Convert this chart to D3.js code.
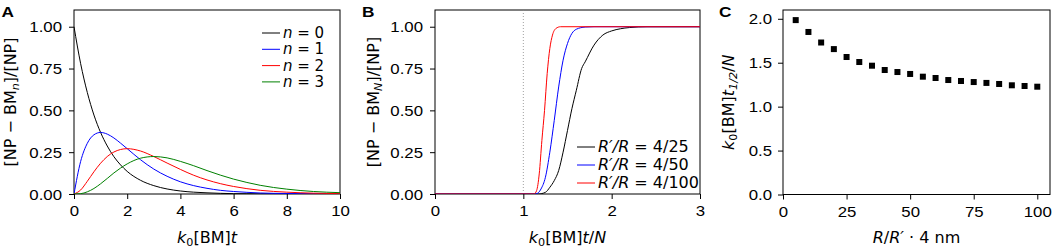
<!DOCTYPE html>
<html>
<head>
<meta charset="utf-8">
<script src="https://d3js.org/d3.v7.min.js"></script>
<style>
  body { margin: 0; background: #fff; }
  svg { font-family: "Liberation Sans", Arial, sans-serif; }
  .math { font-family: "DejaVu Sans", sans-serif; }
</style>
</head>
<body>
<svg id="fig" width="1052" height="249"></svg>
<script>
// Panel A: fraction of NP carrying n molecules vs k0[BM]t
var aTime = [0, 0.25, 0.5, 0.75, 1, 1.25, 1.5, 1.75, 2, 2.5, 3, 3.5, 4, 4.5, 5, 5.5, 6, 6.5, 7, 8, 9, 10];
var aN0 = [1, 0.779, 0.607, 0.472, 0.368, 0.287, 0.223, 0.174, 0.135, 0.082, 0.050, 0.030, 0.018, 0.011, 0.007, 0.004, 0.002, 0.0015, 0.001, 0.0003, 0.0001, 0];
var aN1 = [0, 0.195, 0.303, 0.354, 0.368, 0.358, 0.335, 0.304, 0.271, 0.205, 0.149, 0.106, 0.073, 0.050, 0.034, 0.022, 0.015, 0.010, 0.006, 0.003, 0.001, 0.0005];
var aN2 = [0, 0.024, 0.076, 0.133, 0.184, 0.224, 0.251, 0.266, 0.271, 0.257, 0.224, 0.185, 0.147, 0.112, 0.084, 0.062, 0.045, 0.032, 0.022, 0.011, 0.005, 0.002];
var aN3 = [0, 0.002, 0.013, 0.033, 0.061, 0.093, 0.126, 0.155, 0.180, 0.214, 0.224, 0.216, 0.195, 0.169, 0.140, 0.113, 0.089, 0.069, 0.052, 0.029, 0.015, 0.008];
var aLabels = ["0", "1", "2", "3"];

// Panel B: fully covered fraction vs k0[BM]t/N
var b25X = [0, 1.17, 1.25, 1.3, 1.35, 1.4, 1.45, 1.5, 1.55, 1.6, 1.66, 1.7, 1.8, 1.9, 2.0, 2.1, 2.2, 2.4, 3];
var b25Y = [0, 0, 0.01, 0.04, 0.08, 0.14, 0.25, 0.38, 0.51, 0.62, 0.75, 0.79, 0.89, 0.95, 0.975, 0.988, 0.995, 1, 1];
var b50X = [0, 1.14, 1.2, 1.25, 1.3, 1.35, 1.4, 1.45, 1.5, 1.55, 1.6, 1.7, 1.8, 3];
var b50Y = [0, 0, 0.03, 0.1, 0.25, 0.44, 0.64, 0.8, 0.9, 0.96, 0.985, 0.998, 1, 1];
var b100X = [0, 1.12, 1.15, 1.18, 1.21, 1.24, 1.27, 1.3, 1.33, 1.37, 1.42, 3];
var b100Y = [0, 0, 0.02, 0.12, 0.32, 0.5, 0.72, 0.87, 0.95, 0.99, 1, 1];
var bLabels = ["4/25", "4/50", "4/100"];

// Panel C: half time vs R/R'
var cRatio = [5, 10, 15, 20, 25, 30, 35, 40, 45, 50, 55, 60, 65, 70, 75, 80, 85, 90, 95, 100];
var cHalf = [1.985, 1.85, 1.73, 1.655, 1.565, 1.508, 1.466, 1.417, 1.394, 1.372, 1.341, 1.326, 1.303, 1.292, 1.28, 1.27, 1.258, 1.243, 1.235, 1.227];

var yTicksAB = [0, 0.25, 0.5, 0.75, 1];
var tickFs = 14, stretch = 1.2, labelFs = 16;
var svg = d3.select("#fig");

// text made of parts: [string, style] with style "", "i", "sub", "subi"
function rich(text, parts, size) {
  var shift = 0;
  parts.forEach(function(p) {
    var style = p[1] || "";
    var t = text.append("tspan").text(p[0]);
    var isSub = style.indexOf("sub") >= 0;
    var target = isSub ? size * 0.2 : 0;
    if (target !== shift) { t.attr("dy", target - shift); shift = target; }
    if (isSub) t.attr("font-size", size * 0.7);
    if (style.indexOf("i") >= 0) t.attr("font-style", "italic");
  });
  return text;
}

function panel(o) {
  var x = d3.scaleLinear().domain(o.xDomain).range([o.left, o.right]);
  var y = d3.scaleLinear().domain(o.yDomain).range([o.bottom, o.top]);
  var g = svg.append("g");

  var xAxis = g.append("g").attr("transform", "translate(0," + o.bottom + ")")
    .call(d3.axisBottom(x).tickValues(o.xTicks).tickSize(5).tickFormat(o.xFormat));
  xAxis.selectAll(".tick text").attr("y", 0).attr("dy", 22.5).attr("transform", "scale(" + stretch + ",1)");
  var yAxis = g.append("g").attr("transform", "translate(" + o.left + ",0)")
    .call(d3.axisLeft(y).tickValues(o.yTicks).tickSize(5).tickFormat(o.yFormat));
  yAxis.selectAll(".tick text").attr("x", -o.yGap / stretch).attr("dy", "0.36em")
    .attr("transform", "scale(" + stretch + ",1)");
  [xAxis, yAxis].forEach(function(a) {
    a.select(".domain").remove();
    a.selectAll("text").attr("font-size", tickFs).attr("fill", "#000").attr("font-family", null);
    a.selectAll("line").attr("stroke", "#000");
  });

  g.append("rect").attr("x", o.left).attr("y", o.top)
    .attr("width", o.right - o.left).attr("height", o.bottom - o.top)
    .attr("fill", "none").attr("stroke", "#000").attr("stroke-width", 1);

  var clip = "clip" + o.name;
  svg.append("clipPath").attr("id", clip).append("rect")
    .attr("x", o.left).attr("y", o.top).attr("width", o.right - o.left).attr("height", o.bottom - o.top);

  g.append("text").attr("transform", "translate(" + o.letterX + ",16.5) scale(1.15,1)")
    .attr("font-size", 15).attr("font-weight", "bold").text(o.name);

  rich(g.append("text").attr("class", "math").attr("x", (o.left + o.right) / 2).attr("y", 242.5)
    .attr("text-anchor", "middle").attr("font-size", labelFs), o.xLabel, labelFs);
  rich(g.append("text").attr("class", "math")
    .attr("transform", "translate(" + o.yLabelX + "," + (o.top + o.bottom) / 2 + ") rotate(-90)")
    .attr("text-anchor", "middle").attr("font-size", labelFs), o.yLabel, labelFs);

  return {x: x, y: y, g: g.append("g").attr("clip-path", "url(#" + clip + ")")};
}

var line = function(p) {
  return d3.line().curve(d3.curveMonotoneX).x(function(d) { return p.x(d[0]); }).y(function(d) { return p.y(d[1]); });
};

function legend(g, x0, y0, dy, fsz, items) {
  items.forEach(function(it, i) {
    var yy = y0 + i * dy;
    g.append("line").attr("x1", x0).attr("x2", x0 + 18).attr("y1", yy).attr("y2", yy)
      .attr("stroke", it.color).attr("stroke-width", 1);
    rich(g.append("text").attr("class", "math").attr("x", x0 + 21).attr("y", yy + fsz * 0.34)
      .attr("font-size", fsz), it.parts, fsz);
  });
}

// ---- A ----
var pa = panel({
  name: "A", letterX: 1.5, left: 74, right: 340, top: 10, bottom: 194,
  xDomain: [0, 10], yDomain: [0, 1.1], xTicks: [0, 2, 4, 6, 8, 10], yTicks: yTicksAB,
  xFormat: d3.format("d"), yFormat: d3.format(".2f"), yLabelX: 16, yGap: 12,
  xLabel: [["k", "i"], ["0", "sub"], ["[BM]"], ["t", "i"]],
  yLabel: [["[NP \u2212 BM"], ["n", "subi"], ["]/[NP]"]]
});
var colors = ["#000000", "#0000ff", "#ff0000", "#008000"];
[aN0, aN1, aN2, aN3].forEach(function(s, i) {
  pa.g.append("path").datum(aTime.map(function(t, j) { return [t, s[j]]; }))
    .attr("d", line(pa)).attr("fill", "none").attr("stroke", colors[i]).attr("stroke-width", 1);
});
legend(svg, 262, 33, 16.3, 15, aLabels.map(function(l, i) {
  return {color: colors[i], parts: [["n", "i"], [" = " + l]]};
}));

// ---- B ----
var pb = panel({
  name: "B", letterX: 362, left: 435, right: 700, top: 10, bottom: 194,
  xDomain: [0, 3], yDomain: [0, 1.1], xTicks: [0, 1, 2, 3], yTicks: yTicksAB,
  xFormat: d3.format("d"), yFormat: d3.format(".2f"), yLabelX: 379, yGap: 12,
  xLabel: [["k", "i"], ["0", "sub"], ["[BM]"], ["t", "i"], ["/"], ["N", "i"]],
  yLabel: [["[NP \u2212 BM"], ["N", "subi"], ["]/[NP]"]]
});
pb.g.append("line").attr("x1", pb.x(1)).attr("x2", pb.x(1)).attr("y1", 10).attr("y2", 194)
  .attr("stroke", "#888").attr("stroke-width", 0.8).attr("stroke-dasharray", "1,2");
var bColors = ["#000000", "#0000ff", "#ff0000"];
[[b25X, b25Y], [b50X, b50Y], [b100X, b100Y]].forEach(function(s, i) {
  pb.g.append("path").datum(s[0].map(function(t, j) { return [t, s[1][j]]; }))
    .attr("d", line(pb)).attr("fill", "none").attr("stroke", bColors[i]).attr("stroke-width", 1);
});
legend(svg, 577, 147, 18, 16, bLabels.map(function(l, i) {
  return {color: bColors[i], parts: [["R\u2032/R", "i"], [" = " + l]]};
}));

// ---- C ----
var pc = panel({
  name: "C", letterX: 719, left: 783, right: 1050, top: 10, bottom: 194.5,
  xDomain: [0, 105], yDomain: [0, 2.1], xTicks: [0, 25, 50, 75, 100], yTicks: [0, 0.5, 1, 1.5, 2],
  xFormat: d3.format("d"), yFormat: d3.format(".1f"), yLabelX: 734, yGap: 11,
  xLabel: [["R", "i"], ["/"], ["R\u2032", "i"], [" \u00b7 4 nm"]],
  yLabel: [["k", "i"], ["0", "sub"], ["[BM]"], ["t", "i"], ["1/2", "subi"], ["/"], ["N", "i"]]
});
pc.g.selectAll("rect.pt").data(cRatio).enter().append("rect").attr("class", "pt")
  .attr("x", function(d) { return pc.x(d) - 3; })
  .attr("y", function(d, i) { return pc.y(cHalf[i]) - 3; })
  .attr("width", 6).attr("height", 6).attr("fill", "#000");
</script>
</body>
</html>
